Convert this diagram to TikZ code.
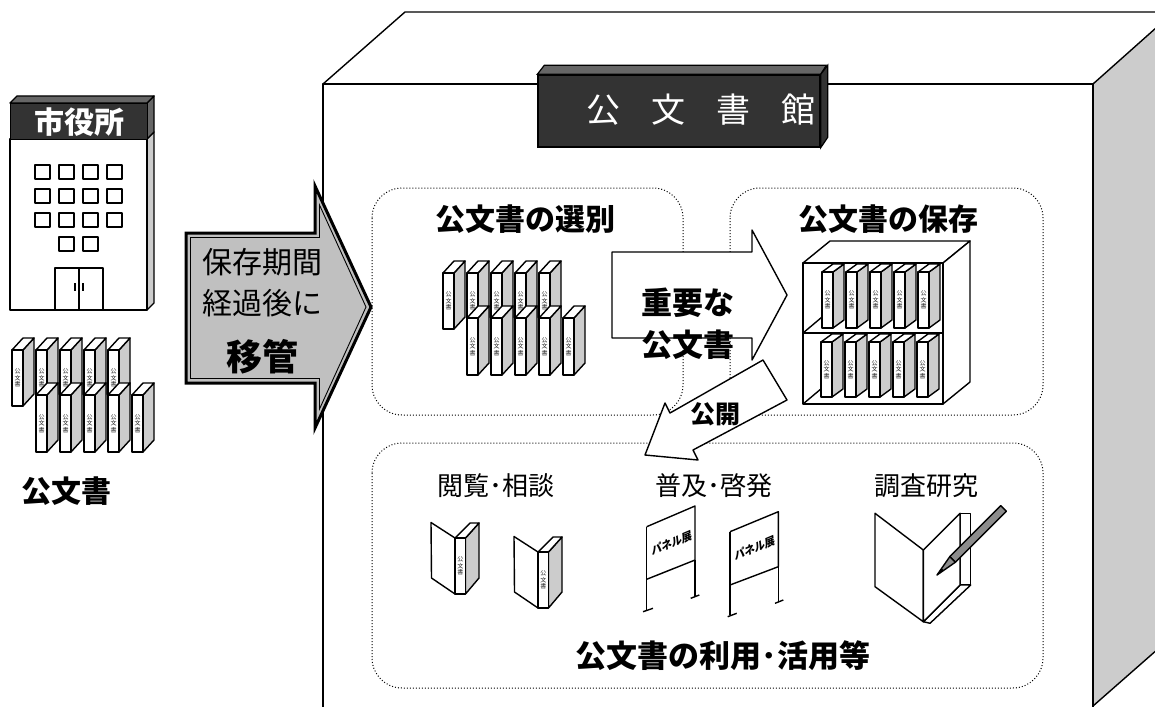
\documentclass[tikz,border=0pt]{standalone}
\usepackage{fontspec}
\setmainfont{Noto Sans CJK JP}
\definecolor{sidegray}{HTML}{CCCCCC}
\definecolor{darkbox}{HTML}{333333}
\definecolor{darktop}{HTML}{666666}
\definecolor{arrowgray}{HTML}{C0C0C0}
\definecolor{pencilgray}{HTML}{8C8C8C}
\newcounter{filecount}
% a standing file binder: #1,#2 spine top-left, #3 spine height, #4 rise of the depth
\newcommand\filebox[4]{%
  \stepcounter{filecount}%
  \begin{scope}[shift={(#1,#2)}]
    \filldraw[outline,fill=sidegray] (11,0) -- (22,-#4) -- (22,#3-#4) -- (11,#3) -- cycle;
    \filldraw[outline,fill=white] (0,0) -- (11,-#4) -- (22,-#4) -- (11,0) -- cycle;
    \filldraw[outline,fill=white] (0,0) rectangle (11,#3);
    \node[spinetext] (file\arabic{filecount}) at (5.5,#3/2) {公\\文\\書};
  \end{scope}}
% an open book seen from the spine side
\newcommand\openbook[3]{%
  \begin{scope}[shift={(#1,#2)}]
    \filldraw[outline,fill=white] (-24,-15.5) -- (0,0) -- (0,56) -- (-23.5,40) -- cycle;
    \filldraw[outline,fill=sidegray] (10.5,0) -- (24,-15) -- (24,40) -- (10.5,56) -- cycle;
    \filldraw[outline,fill=white] (0,0) -- (15,-15) -- (24,-15) -- (10.5,0) -- cycle;
    \filldraw[outline,fill=white] (0,0) rectangle (10.5,56);
    \node[spinetext] (#3) at (5.25,28) {公\\文\\書};
  \end{scope}}
\begin{document}
\begin{tikzpicture}[x=1pt,y=-1pt,
  outline/.style={draw=black,line width=1.4pt,line join=round},
  thinline/.style={draw=black,line width=1.2pt,line join=round},
  dotbox/.style={draw=black,dotted,line width=1pt,rounded corners=30pt},
  spinetext/.style={inner sep=0pt,align=center,font=\fontsize{6}{6.6}\selectfont,text=black!85},
  heading/.style={inner sep=0pt,font=\fontsize{30}{32}\selectfont\bfseries},
  caption/.style={inner sep=0pt,font=\fontsize{26}{28}\selectfont},
  paneltext/.style={inner sep=0pt,font=\fontsize{11}{11}\selectfont\bfseries,rotate=23,xslant=0.3},
]
\useasboundingbox (0,0) rectangle (1155,706);
\clip (0,0) rectangle (1155,706);
\fill[white] (0,0) rectangle (1155,706);

% ---------- archives building ----------
\filldraw[outline,fill=white] (323,84) -- (405,12) -- (1200,12) -- (1093,84) -- cycle;
\filldraw[outline,fill=sidegray] (1093,84) -- (1175,11) -- (1175,634) -- (1093,706) -- cycle;
\filldraw[outline,fill=white] (323,84) rectangle (1093,720);

% title plate
\node[fill=darkbox,draw=black,line width=1.4pt,minimum width=282pt,minimum height=72pt,inner sep=0pt] (title) at (679,111) {};
\filldraw[draw=black,line width=1.2pt,fill=darktop] (title.north west) -- ++(7,-9) -- ++(282,0) -- (title.north east) -- cycle;
\filldraw[draw=black,line width=1.2pt,fill=darkbox] (title.north east) -- ++(7,-9) -- ++(0,72) -- (title.south east) -- cycle;
\node[inner sep=0pt,text=white,font=\fontsize{34}{36}\selectfont] (titletext) at (701,110) {公\hspace{30.7pt}文\hspace{30.7pt}書\hspace{30.7pt}館};

% dotted groups
\draw[dotbox] (372,188) rectangle (683,415);
\draw[dotbox] (730,188) rectangle (1043,415);
\draw[dotbox] (372,443) rectangle (1043,688);

\node[heading] (selhead) at (525,219) {公文書の選別};
\node[heading] (keephead) at (888,219) {公文書の保存};

% files to be selected
\foreach \k in {0,...,4} { \filebox{443+24*\k}{273}{56}{12} }
\foreach \k in {0,...,4} { \filebox{467+24*\k}{318}{57}{12} }

% shelf
\filldraw[outline,fill=white] (803,263) -- (830,241) -- (970,241) -- (943,263) -- cycle;
\filldraw[outline,fill=white] (943,263) -- (970,241) -- (970,382) -- (943,404) -- cycle;
\draw[outline] (803,263) rectangle (943,404);
\draw[outline] (803,333) -- (943,333);
\draw[outline] (803,333) -- (828,312);
\draw[outline] (803,404) -- (828,383);
\foreach \k in {0,...,4} { \filebox{822+24*\k}{272}{56}{8} }
\foreach \k in {0,...,4} { \filebox{821+24*\k}{342}{55}{8} }

% use section
\node[caption] (readhead) at (496,486) {閲覧･相談};
\node[caption] (pophead) at (714,486) {普及･啓発};
\node[caption] (studyhead) at (926,486) {調査研究};
\node[inner sep=0pt,font=\fontsize{31}{33}\selectfont\bfseries] (usehead) at (723,656) {公文書の利用･活用等};

\openbook{455}{538}{book1}
\openbook{538}{552}{book2}

% exhibition panels
\draw[outline] (646.7,526.7) -- (695,506) -- (695,560) -- (646.7,579.3);
\draw[outline] (646.7,526.7) -- (646.7,610);
\draw[outline] (695,560) -- (695,596.7);
\draw[outline] (643,611.7) -- (653,608.3);
\draw[outline] (690.7,598.3) -- (699.3,595);
\node[paneltext] (panel1) at (672,543) {パネル展};
\draw[outline] (730,531.7) -- (778.3,511.7) -- (778.3,566.7) -- (730,585);
\draw[outline] (730,531.7) -- (730,615);
\draw[outline] (778.3,566.7) -- (778.3,601.7);
\draw[outline] (727.7,616.7) -- (736.7,613.3);
\draw[outline] (775,603.3) -- (783.3,600);
\node[paneltext] (panel2) at (755,548) {パネル展};

% notebook and pencil
\filldraw[outline,fill=white] (875,513.3) -- (923.3,550) -- (923.3,621.7) -- (875,586.7) -- cycle;
\filldraw[outline,fill=white] (960,513.3) -- (970.7,513.3) -- (970.7,585) -- (960,585) -- cycle;
\filldraw[outline,fill=white] (923.3,621.7) -- (960,585) -- (970.7,585) -- (930,623.3) -- cycle;
\filldraw[outline,fill=white] (923.3,550) -- (960,513.3) -- (960,585) -- (923.3,621.7) -- cycle;
\filldraw[outline,fill=pencilgray] (955.4,562.2) -- (1006.3,511.3) -- (1000.7,505.7) -- (949.8,556.6) -- cycle;
\filldraw[outline,fill=pencilgray] (937,575) -- (955.4,562.2) -- (949.8,556.6) -- cycle;
\fill[black] (937,575) -- (943.7,570.3) -- (941.7,568.3) -- cycle;

% ---------- arrows ----------
\filldraw[outline,fill=white] (612,252) -- (752,252) -- (752,230) -- (787,295) -- (752,360) -- (752,338) -- (612,338) -- cycle;
\node[inner sep=0pt,font=\fontsize{31}{33}\selectfont\bfseries,align=center] (important) at (688,324) {重要な\\[9pt]公文書};

\filldraw[outline,fill=white] (763,360) -- (670,413) -- (665,403) -- (645,455) -- (698,460) -- (693,450) -- (787,400) -- cycle;
\node[inner sep=0pt,font=\fontsize{25}{27}\selectfont\bfseries] (open) at (715,414) {公開};

% ---------- city hall ----------
\filldraw[outline,fill=sidegray] (147,139) -- (154,132) -- (154,303) -- (147,310) -- cycle;
\filldraw[outline,fill=darktop] (147,103) -- (154,96) -- (154,132) -- (147,139) -- cycle;
\filldraw[outline,fill=darktop] (10,103) -- (17,96) -- (154,96) -- (147,103) -- cycle;
\filldraw[outline,fill=white] (10,139) rectangle (147,310);
\node[fill=darkbox,draw=black,line width=1.4pt,minimum width=137pt,minimum height=36pt,inner sep=0pt,anchor=north west,text=white,font=\fontsize{30}{32}\selectfont\bfseries] (cityhall) at (10,103) {市役所};
\foreach \x in {35,59,83,107} { \foreach \y in {165,189,213} { \draw[thinline] (\x,\y) rectangle ++(15,14); } }
\draw[thinline] (59,237) rectangle ++(15,14);
\draw[thinline] (83,237) rectangle ++(15,14);
\draw[thinline] (55,268) rectangle (103,310);
\draw[thinline] (79,268) -- (79,310);
\draw[line width=1.6pt] (75,283) -- (75,291);
\draw[line width=1.6pt] (83,283) -- (83,291);

% files held by the city hall
\foreach \k in {0,...,4} { \filebox{12+24*\k}{350}{56}{12} }
\foreach \k in {0,...,4} { \filebox{36+24*\k}{395}{57}{12} }
\node[inner sep=0pt,font=\fontsize{30}{32}\selectfont\bfseries] (docs) at (66,491) {公文書};

% transfer arrow (thick outer line, thin inner line)
\filldraw[draw=black,line width=3pt,line join=miter,fill=arrowgray] (186,233) -- (315,233) -- (315,186) -- (371,307) -- (315,428) -- (315,383) -- (186,383) -- cycle;
\draw[draw=black,line width=0.9pt,line join=miter] (190.5,237.5) -- (319.5,237.5) -- (319.5,205) -- (366,307) -- (319.5,409) -- (319.5,378.5) -- (190.5,378.5) -- cycle;
\node[inner sep=0pt,font=\fontsize{30}{32}\selectfont] (period) at (262,262) {保存期間};
\node[inner sep=0pt,font=\fontsize{30}{32}\selectfont] (after) at (262,303) {経過後に};
\node[inner sep=0pt,font=\fontsize{36}{38}\selectfont\bfseries] (transfer) at (262,357) {移管};
\end{tikzpicture}
\end{document}
